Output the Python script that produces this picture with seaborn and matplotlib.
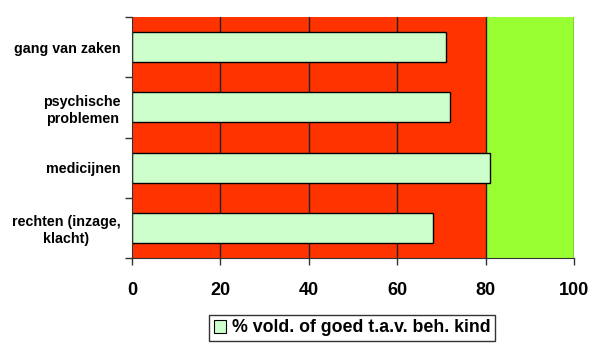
import matplotlib
matplotlib.use("Agg")
import matplotlib.pyplot as plt
from matplotlib.patches import Patch
import seaborn as sns
import pandas as pd

categories = ["gang van zaken", "psychische\nproblemen", "medicijnen", "rechten (inzage,\nklacht)"]
values = [71, 72, 81, 68]
series_name = "% vold. of goed t.a.v. beh. kind"
x_ticks = [0, 20, 40, 60, 80, 100]
threshold = 80

df = pd.DataFrame({"categorie": categories, "waarde": values})

sns.set_style("white")
plt.rcParams["font.family"] = ["Liberation Sans", "DejaVu Sans"]
plt.rcParams["font.weight"] = "bold"
plt.rcParams["text.color"] = "black"
plt.rcParams["xtick.color"] = "black"
plt.rcParams["ytick.color"] = "black"

fig = plt.figure(figsize=(5.89, 3.43), dpi=100)
ax = fig.add_axes([132 / 589, 1 - 258 / 343, (574 - 132) / 589, (258 - 17) / 343])

# background zones: below and above the threshold
ax.axvspan(0, threshold, color="#FF3300", zorder=0, lw=0)
ax.axvspan(threshold, 100, color="#99FF33", zorder=0, lw=0)
for t in x_ticks[1:]:
    ax.axvline(t, color="#222222", lw=1.0, zorder=1)

sns.barplot(data=df, y="categorie", x="waarde", orient="h", color="#CCFFCC",
            width=0.5, edgecolor="black", linewidth=1.0, saturation=1, ax=ax, zorder=2)

ax.set_xlim(0, 100)
ax.set_ylim(3.5, -0.5)
ax.set_xticks(x_ticks)
ax.set_xticklabels([str(t) for t in x_ticks], fontsize=13, fontweight="bold", color="black")
ax.set_yticks(range(len(categories)))
ax.set_yticklabels(categories, fontsize=10.3, fontweight="bold", color="black",
                   multialignment="center", linespacing=1.25)
ax.tick_params(axis="y", which="major", left=True, length=0, pad=8)
ax.tick_params(axis="x", bottom=True, length=5, width=1, color="#333333", direction="out", pad=12)
# minor ticks on the category boundaries
ax.set_yticks([-0.5, 0.5, 1.5, 2.5, 3.5], minor=True)
ax.tick_params(axis="y", which="minor", left=True, length=5, width=1, color="#333333", direction="out")
ax.set_xlabel("")
ax.set_ylabel("")
for s in ["top", "right"]:
    ax.spines[s].set_visible(False)
ax.spines["left"].set_color("#333333")
ax.spines["bottom"].set_color("#333333")

handles = [Patch(facecolor="#CCFFCC", edgecolor="black", lw=0.8, label=series_name)]
leg = fig.legend(handles=handles, loc="center", bbox_to_anchor=(352 / 589, 1 - 328 / 343),
                 frameon=True, fancybox=False, edgecolor="black",
                 prop={"weight": "bold", "size": 12.8}, handlelength=0.7, handleheight=0.7,
                 handletextpad=0.3, borderpad=0.25, borderaxespad=0)
for txt in leg.get_texts():
    txt.set_color("black")

fig.savefig("out.png", dpi=100)
